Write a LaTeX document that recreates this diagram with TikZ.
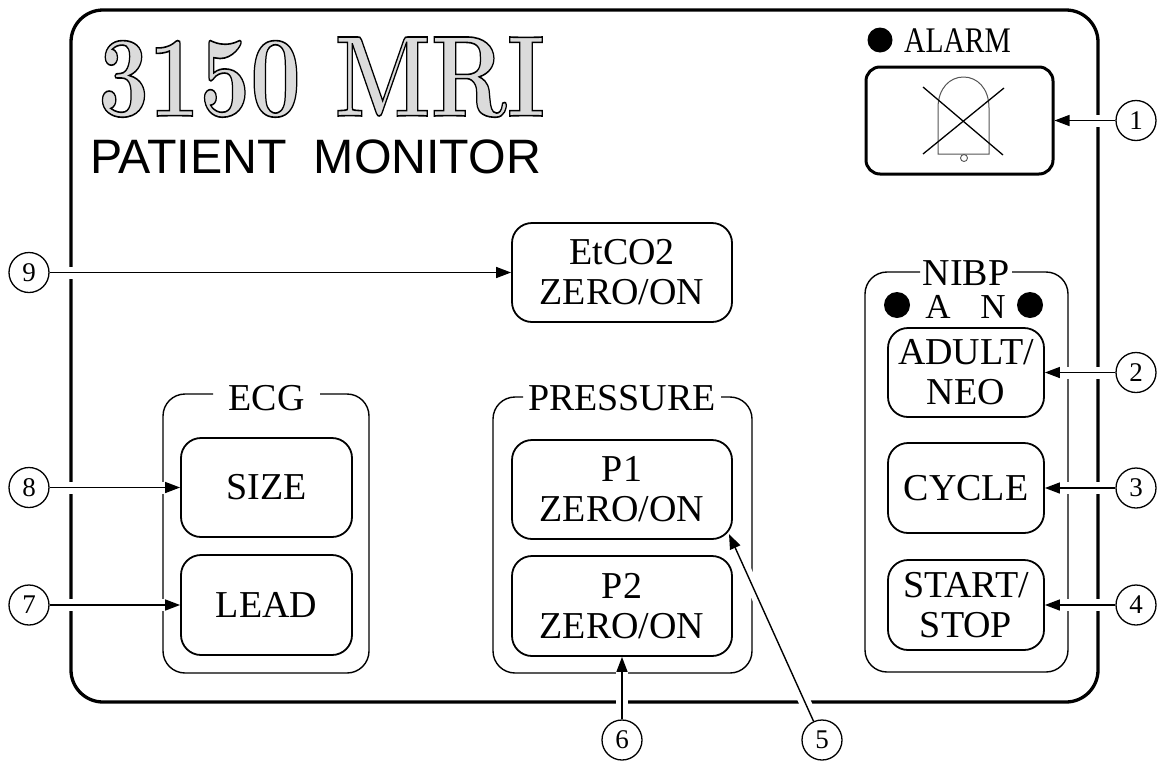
\documentclass[tikz,border=0pt]{standalone}
\usepackage{fontspec}
\newfontfamily\tnr{Liberation Serif}
\newfontfamily\arial{Liberation Sans}
\newfontfamily\titlefont{lmroman10-bold.otf}[FakeBold=1.4]
\usetikzlibrary{arrows.meta}
\pgfdeclarelayer{frames}
\pgfdeclarelayer{halolayer}
\pgfsetlayers{frames,halolayer,main}
\definecolor{bellgray}{HTML}{555555}
\newcommand{\titletext}{\special{pdf:bcolor [0.86] [0]}\resizebox{447pt}{79pt}{\titlefont\fontsize{114}{114}\selectfont 3150 MRI}\special{pdf:ecolor}}
\tikzset{
  btn/.style={draw, line width=1.8, rounded corners=20, align=center, inner sep=0,
    font=\tnr\fontsize{38}{40}\selectfont},
  grp/.style={line width=1.4, rounded corners=22},
  grplbl/.style={anchor=base, inner sep=0, font=\tnr\fontsize{38}{38}\selectfont},
  num/.style={circle, draw, line width=1.3, minimum size=40, inner sep=0,
    font=\tnr\fontsize{27}{27}\selectfont},
  conn/.style={-{Triangle[length=15pt,width=11pt]}, line width=1.4},
  haloline/.style={draw=white, line width=12},
  titlenode/.style={anchor=base west, inner sep=0},
  led/.style={fill=black},
}
\begin{document}
\begin{tikzpicture}[x=1pt,y=-1pt]
\useasboundingbox (0,0) rectangle (1157,761);

% ---------- frames (bottom layer) ----------
\begin{pgfonlayer}{frames}
  \fill[white] (0,0) rectangle (1157,761);
  \draw[line width=3.3, rounded corners=32] (71,10) rectangle (1098,702);
  % ECG group
  \draw[grp] (320,394) -- (369,394) -- (369,673) -- (163,673) -- (163,394) -- (213,394);
  % PRESSURE group
  \draw[grp] (721,397) -- (752,397) -- (752,673) -- (493,673) -- (493,397) -- (523,397);
  % NIBP group
  \draw[grp] (1012,272) -- (1068,272) -- (1068,672) -- (865,672) -- (865,272) -- (920,272);
\end{pgfonlayer}

% ---------- title ----------
\node[titlenode] (title) at (98,116) {\titletext};
\node[anchor=base west, inner sep=0, font=\arial\fontsize{48.3}{48.3}\selectfont]
  (subtitle) at (90,173) {PATIENT\ \ MONITOR};

% ---------- alarm ----------
\fill[led] (880,40) circle (12.5);
\node[anchor=base west, inner sep=0, font=\tnr\fontsize{36}{36}\selectfont]
  (alarmlbl) at (904,52) {\scalebox{0.82}[1]{ALARM}};
\node[draw, line width=3, rounded corners=14, minimum width=187, minimum height=107,
  inner sep=0] (alarm) at (959.5,120.5) {};
\draw[bellgray, line width=1] (938,154) -- (938,108)
  .. controls (938,88) and (950,77) .. (963.5,77)
  .. controls (977,77) and (989,88) .. (989,108) -- (989,154) -- cycle;
\draw[bellgray, line width=0.9, fill=white] (964,158) circle (3.5);
\draw[line width=1.3] (923,87) -- (1003,155);
\draw[line width=1.3] (1004,88) -- (923,154);

% ---------- group labels ----------
\node[grplbl] (ecglbl) at (266.5,410) {ECG};
\node[grplbl] (preslbl) at (622,410) {PRESSURE};
\node[grplbl] (nibplbl) at (966,285) {NIBP};
\fill[led] (897,305) circle (13);
\fill[led] (1030,305) circle (13);
\node[anchor=base, inner sep=0, font=\tnr\fontsize{35}{35}\selectfont] (ledA) at (938,318) {A};
\node[anchor=base, inner sep=0, font=\tnr\fontsize{35}{35}\selectfont] (ledN) at (993,318) {N};

% ---------- buttons ----------
\node[btn, minimum width=220, minimum height=99] (etco) at (622,272.5) {EtCO2\\ZERO/ON};
\node[btn, minimum width=171, minimum height=99] (size) at (266.5,487.5) {SIZE};
\node[btn, minimum width=171, minimum height=100] (lead) at (266.5,605) {LEAD};
\node[btn, minimum width=220, minimum height=99] (p1) at (622,489.5) {P1\\ZERO/ON};
\node[btn, minimum width=220, minimum height=100] (p2) at (622,606) {P2\\ZERO/ON};
\node[btn, minimum width=156, minimum height=89] (adult) at (966,372.5) {ADULT/\\NEO};
\node[btn, minimum width=156, minimum height=90] (cycle) at (966,488) {CYCLE};
\node[btn, minimum width=156, minimum height=90] (start) at (966,605) {START/\\STOP};
\coordinate (t5) at (729,534);

% ---------- callout numbers ----------
\node[num] (c1) at (1136,120.5) {1};
\node[num] (c2) at (1136,372.5) {2};
\node[num] (c3) at (1136,488) {3};
\node[num] (c4) at (1136,605) {4};
\node[num] (c5) at (822,740) {5};
\node[num] (c6) at (622,740) {6};
\node[num] (c7) at (29,605) {7};
\node[num] (c8) at (29,487.5) {8};
\node[num] (c9) at (29,272.5) {9};

% ---------- halos (gaps in frames) ----------
\begin{pgfonlayer}{halolayer}
  \draw[haloline] (c1) -- (alarm);
  \draw[haloline] (c2) -- (adult);
  \draw[haloline] (c3) -- (cycle);
  \draw[haloline] (c4) -- (start);
  \draw[haloline] (c5) -- (t5);
  \draw[haloline] (c6) -- (p2);
  \draw[haloline] (c7) -- (lead);
  \draw[haloline] (c8) -- (size);
  \draw[haloline] (c9) -- (etco);
\end{pgfonlayer}

% ---------- connectors ----------
\draw[conn] (c1) -- (alarm);
\draw[conn] (c2) -- (adult);
\draw[conn] (c3) -- (cycle);
\draw[conn] (c4) -- (start);
\draw[conn] (c5) -- (t5);
\draw[conn] (c6) -- (p2);
\draw[conn] (c7) -- (lead);
\draw[conn] (c8) -- (size);
\draw[conn] (c9) -- (etco);
\end{tikzpicture}
\end{document}
